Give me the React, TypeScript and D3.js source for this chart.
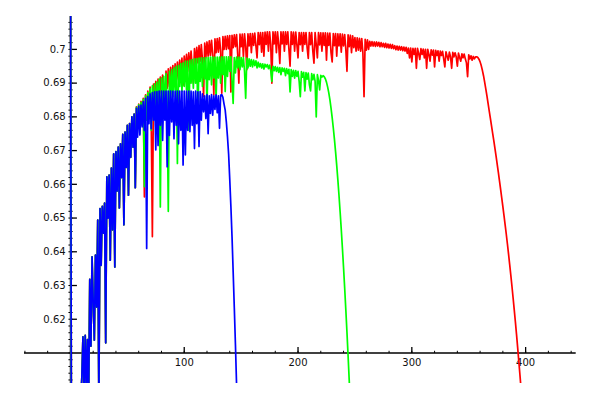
import React from 'react';
import * as d3 from 'd3';

// x = 0..57, common to all three series (they coincide there)
const sharedStart = [
  0.75, 0.55, 0.56, 0.57, 0.575, 0.58, 0.585, 0.588, 0.59, 0.595,
  0.6025, 0.6148, 0.598, 0.6152, 0.599, 0.614, 0.596, 0.6318, 0.612, 0.6385,
  0.625, 0.6138, 0.639, 0.6236, 0.6494, 0.595, 0.6528, 0.636, 0.6535, 0.6455,
  0.6544, 0.613, 0.6622, 0.65, 0.6627, 0.6375, 0.6648, 0.6465, 0.669, 0.6355,
  0.6697, 0.658, 0.671, 0.653, 0.672, 0.662, 0.6748, 0.648, 0.6755, 0.665,
  0.6775, 0.6568, 0.678, 0.668, 0.68, 0.671, 0.6808, 0.659,
];

// x = 58..147
const blueTail = [
  .6825, .6740, .6832, .6746, .6835, .6770, .6845, .6760, .6855, .6410,
  .6860, .6780, .6868, .6765, .6872, .6790, .6874, .6702, .6875, .6715,
  .6876, .6775, .6876, .6730, .6876, .6790, .6876, .6652, .6876, .6745,
  .6876, .6785, .6876, .6735, .6876, .6775, .6876, .6720, .6876, .6760,
  .6876, .6657, .6876, .6687, .6876, .6760, .6876, .6756, .6876, .6775,
  .6874, .6706, .6876, .6780, .6874, .6712, .6875, .6790, .6868, .6815,
  .6862, .6795, .6866, .6750, .6862, .6810, .6866, .6805, .6862, .6822,
  .6865, .6812, .6862, .6766, .6864, .6866, .6858, .6838, .6820, .6785,
  .6741, .6690, .6615, .6535, .6445, .6340, .6235, .6125, .6005, .5880,
];

// x = 58..246
const greenTail = [
  .6828, .6770, .6836, .6750, .6843, .6775, .6852, .6593, .6862, .6790,
  .6872, .6810, .6884, .6760, .6892, .6800, .6898, .6770, .6903, .6820,
  .6912, .6533, .6915, .6830, .6920, .6810, .6928, .6840, .6520, .6935,
  .6850, .6940, .6860, .6945, .6880, .6950, .6662, .6953, .6890, .6958,
  .6875, .6960, .6890, .6965, .6880, .6965, .6760, .6968, .6900, .6970,
  .6885, .6972, .6900, .6973, .6805, .6974, .6905, .6975, .6890, .6975,
  .6912, .6976, .6835, .6976, .6910, .6977, .6895, .6977, .6915, .6977,
  .6855, .6977, .6915, .6977, .6900, .6978, .6925, .6978, .6875, .6978,
  .6920, .6978, .6935, .6978, .6905, .6840, .6976, .6930, .6977, .6945,
  .6977, .6940, .6976, .6948, .6976, .6935, .6855, .6974, .6945, .6972,
  .6950, .6970, .6948, .6968, .6952, .6966, .6945, .6962, .6948, .6958,
  .6945, .6957, .6942, .6956, .6948, .6955, .6943, .6953, .6938, .6905,
  .6950, .6937, .6949, .6935, .6947, .6932, .6946, .6925, .6945, .6935,
  .6944, .6922, .6943, .6928, .6941, .6874, .6940, .6920, .6938, .6915,
  .6937, .6920, .6935, .6905, .6860, .6934, .6918, .6932, .6877, .6931,
  .6912, .6930, .6895, .6877, .6928, .6910, .6926, .6905, .6800, .6925,
  .6908, .6880, .6923, .6918, .6922, .6919, .6913, .6903, .6889, .6872,
  .6851, .6826, .6798, .6767, .6733, .6696, .6656, .6613, .6567, .6518,
  .6466, .6411, .6353, .6292, .6228, .6161, .6091, .6018, .5942,
];

// x = 58..396
const redTail = [
  .6830, .6770, .6838, .6760, .6846, .6780, .6855, .6563, .6865, .6790,
  .6876, .6810, .6888, .6790, .6445, .6897, .6840, .6905, .6850, .6912,
  .6865, .6918, .6870, .6924, .6875, .6862, .6936, .6885, .6942, .6890,
  .6947, .6895, .6952, .6900, .6957, .6905, .6962, .6912, .6968, .6918,
  .6974, .6894, .6980, .6930, .6985, .6935, .6990, .6940, .6995, .6948,
  .6900, .7002, .6955, .7006, .6960, .7011, .6965, .7014, .6970, .6860,
  .7019, .6975, .7022, .6980, .7025, .6982, .7027, .6985, .6865, .7031,
  .6990, .7032, .6992, .7034, .6995, .6870, .7038, .7000, .7039, .7000,
  .7040, .7002, .7041, .6874, .7042, .7005, .7043, .7008, .7044, .6985,
  .6900, .7045, .7008, .7045, .6978, .7046, .7010, .6940, .7046, .7010,
  .7047, .6990, .7047, .7012, .7048, .7010, .6975, .7050, .7014, .7050,
  .6992, .7050, .6980, .7051, .7015, .7052, .6995, .7052, .7015, .6900,
  .7052, .7016, .7052, .6990, .7052, .7015, .6958, .7052, .7016, .7052,
  .6995, .7052, .7015, .7052, .7000, .6950, .7052, .7015, .7051, .6995,
  .7051, .7014, .6975, .7050, .7014, .7050, .6995, .7050, .7015, .7050,
  .7005, .6973, .7050, .7014, .7050, .6995, .6959, .7050, .7014, .6975,
  .7050, .7013, .7049, .6995, .7049, .7012, .7049, .6968, .7048, .7012,
  .7048, .6990, .6963, .7047, .7011, .7047, .6980, .7046, .7010, .7046,
  .6992, .7045, .7010, .7044, .7000, .6935, .7043, .7008, .7042, .6990,
  .7040, .7005, .7035, .6995, .7034, .6998, .7033, .6995, .7032, .6990,
  .6860, .7030, .6998, .7028, .7000, .7024, .7010, .7023, .7010, .7022,
  .7009, .7022, .7010, .7021, .7008, .7020, .7008, .7018, .7006, .7018,
  .7005, .7016, .7004, .7015, .7003, .7014, .7002, .7011, .6999, .7010,
  .6998, .7009, .6998, .7008, .6996, .7007, .6995, .7006, .6988, .7004,
  .6975, .7004, .6963, .7003, .6985, .7003, .6944, .7003, .6988, .6970,
  .7002, .6985, .7001, .6975, .7000, .6944, .7000, .6985, .6965, .6999,
  .6983, .6998, .6948, .6997, .6982, .6996, .6965, .6995, .6982, .6994,
  .6972, .6948, .6993, .6980, .6968, .6992, .6978, .6944, .6991, .6978,
  .6990, .6978, .6950, .6989, .6976, .6965, .6987, .6975, .6986, .6972,
  .6960, .6919, .6984, .6972, .6981, .6968, .6979, .6972, .6978, .6978,
  .6976, .6971, .6963, .6952, .6938, .6922, .6903, .6883, .6862, .6840,
  .6818, .6796, .6774, .6752, .6730, .6707, .6684, .6660, .6636, .6611,
  .6586, .6560, .6534, .6507, .6480, .6452, .6423, .6393, .6362, .6330,
  .6297, .6263, .6228, .6192, .6155, .6116, .6076, .6035, .5993,
];

const yTickValues = [0.62, 0.63, 0.64, 0.65, 0.66, 0.67, 0.68, 0.69, 0.7];
const xTickValues = [100, 200, 300, 400];

export default function App() {
  const x = d3.scaleLinear().domain([-40.8, 444]).range([24, 575.7]);
  const y = d3.scaleLinear().domain([0.6011, 0.7099]).range([383, 16]);
  const axisY = y(0.61);
  const axisX = x(0);
  const line = d3
    .line<number>()
    .x((_, i) => x(i))
    .y((d) => y(d));

  const series = [
    { color: '#ff0000', values: sharedStart.concat(redTail) },
    { color: '#00ff00', values: sharedStart.concat(greenTail) },
    { color: '#0000ff', values: sharedStart.concat(blueTail) },
  ];

  const xMinor = d3.range(-40, 441, 20);
  const yMinor = d3.range(301, 355).map((k) => k * 0.002);
  const fmt = (v: number) => String(+v.toFixed(2));

  return (
    <svg
      width={600}
      height={400}
      style={{ position: 'absolute', left: 0, top: 0, background: '#fff' }}
      fontFamily="DejaVu Sans"
    >
      <defs>
        <clipPath id="plotclip">
          <rect x={24} y={16} width={552} height={367} />
        </clipPath>
      </defs>
      {/* axes */}
      <g stroke="#000" strokeWidth={1.3}>
        <line x1={24} x2={575.7} y1={axisY} y2={axisY} />
        <line x1={axisX} x2={axisX} y1={16} y2={383} />
        {xMinor.map((v) => (
          <line key={'xm' + v} x1={x(v)} x2={x(v)} y1={axisY} y2={axisY - 2.2} strokeWidth={1} />
        ))}
        {xTickValues.map((v) => (
          <line key={'xt' + v} x1={x(v)} x2={x(v)} y1={axisY} y2={axisY - 6} />
        ))}
        {yMinor.map((v) => (
          <line key={'ym' + v} x1={axisX - 2} x2={axisX + 2.2} y1={y(v)} y2={y(v)} strokeWidth={1} />
        ))}
        {yTickValues.map((v) => (
          <line key={'yt' + v} x1={axisX} x2={axisX + 6.5} y1={y(v)} y2={y(v)} />
        ))}
      </g>
      <g fontSize={10} fill="#111">
        {xTickValues.map((v) => (
          <text key={'xl' + v} x={x(v)} y={axisY + 12.7} textAnchor="middle">
            {v}
          </text>
        ))}
        {yTickValues.map((v) => (
          <text key={'yl' + v} x={axisX - 4.8} y={y(v) + 3.3} textAnchor="end">
            {fmt(v)}
          </text>
        ))}
      </g>
      <g clipPath="url(#plotclip)" fill="none">
        {series.map((s) => (
          <path
            key={s.color}
            d={line(s.values) || ''}
            stroke={s.color}
            strokeWidth={1.7}
            strokeLinejoin="round"
          />
        ))}
      </g>
    </svg>
  );
}
